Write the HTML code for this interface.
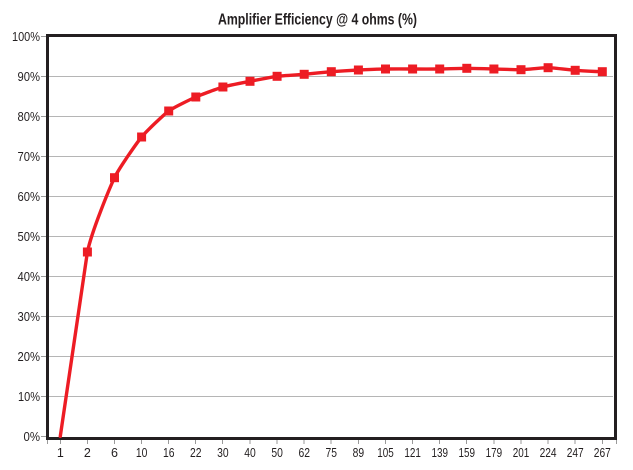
<!DOCTYPE html>
<html>
<head>
<meta charset="utf-8">
<style>
html,body{margin:0;padding:0;background:#fff;}
svg{display:block;}
text{font-family:"Liberation Sans",sans-serif;fill:#231f20;}
</style>
</head>
<body>
<svg width="633" height="470" viewBox="0 0 633 470" xmlns="http://www.w3.org/2000/svg">
<rect width="633" height="470" fill="#fff"/>
<!-- title -->
<text x="218" y="24.5" font-size="15.5" font-weight="bold" textLength="199" lengthAdjust="spacingAndGlyphs">Amplifier Efficiency @ 4 ohms (%)</text>

<!-- gridlines -->
<g stroke="#b5b5b5" stroke-width="1">
<line x1="49" y1="76.5" x2="613" y2="76.5"/>
<line x1="49" y1="116.5" x2="613" y2="116.5"/>
<line x1="49" y1="156.5" x2="613" y2="156.5"/>
<line x1="49" y1="196.5" x2="613" y2="196.5"/>
<line x1="49" y1="236.5" x2="613" y2="236.5"/>
<line x1="49" y1="276.5" x2="613" y2="276.5"/>
<line x1="49" y1="316.5" x2="613" y2="316.5"/>
<line x1="49" y1="356.5" x2="613" y2="356.5"/>
<line x1="49" y1="396.5" x2="613" y2="396.5"/>
</g>
<!-- y ticks -->
<g stroke="#9a9a9a" stroke-width="1">
<line x1="41" y1="36.5" x2="46" y2="36.5"/>
<line x1="41" y1="76.5" x2="46" y2="76.5"/>
<line x1="41" y1="116.5" x2="46" y2="116.5"/>
<line x1="41" y1="156.5" x2="46" y2="156.5"/>
<line x1="41" y1="196.5" x2="46" y2="196.5"/>
<line x1="41" y1="236.5" x2="46" y2="236.5"/>
<line x1="41" y1="276.5" x2="46" y2="276.5"/>
<line x1="41" y1="316.5" x2="46" y2="316.5"/>
<line x1="41" y1="356.5" x2="46" y2="356.5"/>
<line x1="41" y1="396.5" x2="46" y2="396.5"/>
<line x1="41" y1="436.5" x2="46" y2="436.5"/>
</g>
<!-- x ticks -->
<g stroke="#9a9a9a" stroke-width="1">
<line x1="47.5" y1="440" x2="47.5" y2="444"/>
<line x1="60.5" y1="440" x2="60.5" y2="444"/>
<line x1="87.5" y1="440" x2="87.5" y2="444"/>
<line x1="114.5" y1="440" x2="114.5" y2="444"/>
<line x1="141.5" y1="440" x2="141.5" y2="444"/>
<line x1="168.5" y1="440" x2="168.5" y2="444"/>
<line x1="195.5" y1="440" x2="195.5" y2="444"/>
<line x1="222.5" y1="440" x2="222.5" y2="444"/>
<line x1="250" y1="440" x2="250" y2="444"/>
<line x1="277" y1="440" x2="277" y2="444"/>
<line x1="304" y1="440" x2="304" y2="444"/>
<line x1="331" y1="440" x2="331" y2="444"/>
<line x1="358.5" y1="440" x2="358.5" y2="444"/>
<line x1="385.5" y1="440" x2="385.5" y2="444"/>
<line x1="412.5" y1="440" x2="412.5" y2="444"/>
<line x1="439.5" y1="440" x2="439.5" y2="444"/>
<line x1="466.5" y1="440" x2="466.5" y2="444"/>
<line x1="494" y1="440" x2="494" y2="444"/>
<line x1="521" y1="440" x2="521" y2="444"/>
<line x1="548" y1="440" x2="548" y2="444"/>
<line x1="575" y1="440" x2="575" y2="444"/>
<line x1="602.5" y1="440" x2="602.5" y2="444"/>
<line x1="616.5" y1="440" x2="616.5" y2="444"/>
</g>

<!-- frame -->
<rect x="47.5" y="35.5" width="568" height="403" fill="none" stroke="#231f20" stroke-width="3"/>

<!-- y labels -->
<g font-size="12.5" text-anchor="end">
<text x="40" y="41" textLength="28" lengthAdjust="spacingAndGlyphs">100%</text>
<text x="40" y="81" textLength="22.5" lengthAdjust="spacingAndGlyphs">90%</text>
<text x="40" y="121" textLength="22.5" lengthAdjust="spacingAndGlyphs">80%</text>
<text x="40" y="161" textLength="22.5" lengthAdjust="spacingAndGlyphs">70%</text>
<text x="40" y="201" textLength="22.5" lengthAdjust="spacingAndGlyphs">60%</text>
<text x="40" y="241" textLength="22.5" lengthAdjust="spacingAndGlyphs">50%</text>
<text x="40" y="281" textLength="22.5" lengthAdjust="spacingAndGlyphs">40%</text>
<text x="40" y="321" textLength="22.5" lengthAdjust="spacingAndGlyphs">30%</text>
<text x="40" y="361" textLength="22.5" lengthAdjust="spacingAndGlyphs">20%</text>
<text x="40" y="401" textLength="22" lengthAdjust="spacingAndGlyphs">10%</text>
<text x="40" y="441" textLength="16.5" lengthAdjust="spacingAndGlyphs">0%</text>
</g>

<!-- x labels -->
<g font-size="12.5" text-anchor="middle">
<text x="60.3" y="457">1</text>
<text x="87.4" y="457">2</text>
<text x="114.5" y="457">6</text>
<text x="141.6" y="457" textLength="11.5" lengthAdjust="spacingAndGlyphs">10</text>
<text x="168.7" y="457" textLength="11.5" lengthAdjust="spacingAndGlyphs">16</text>
<text x="195.8" y="457" textLength="11.5" lengthAdjust="spacingAndGlyphs">22</text>
<text x="222.9" y="457" textLength="11.5" lengthAdjust="spacingAndGlyphs">30</text>
<text x="250" y="457" textLength="11.5" lengthAdjust="spacingAndGlyphs">40</text>
<text x="277.1" y="457" textLength="11.5" lengthAdjust="spacingAndGlyphs">50</text>
<text x="304.2" y="457" textLength="11.5" lengthAdjust="spacingAndGlyphs">62</text>
<text x="331.3" y="457" textLength="11.5" lengthAdjust="spacingAndGlyphs">75</text>
<text x="358.4" y="457" textLength="11.5" lengthAdjust="spacingAndGlyphs">89</text>
<text x="385.5" y="457" textLength="16.5" lengthAdjust="spacingAndGlyphs">105</text>
<text x="412.6" y="457" textLength="16.5" lengthAdjust="spacingAndGlyphs">121</text>
<text x="439.7" y="457" textLength="16.5" lengthAdjust="spacingAndGlyphs">139</text>
<text x="466.8" y="457" textLength="16.5" lengthAdjust="spacingAndGlyphs">159</text>
<text x="493.9" y="457" textLength="16.5" lengthAdjust="spacingAndGlyphs">179</text>
<text x="521" y="457" textLength="16.5" lengthAdjust="spacingAndGlyphs">201</text>
<text x="548.1" y="457" textLength="17" lengthAdjust="spacingAndGlyphs">224</text>
<text x="575.2" y="457" textLength="17" lengthAdjust="spacingAndGlyphs">247</text>
<text x="602.3" y="457" textLength="17" lengthAdjust="spacingAndGlyphs">267</text>
</g>

<!-- series line -->
<path fill="none" stroke="#ed1c24" stroke-width="3.4" stroke-linejoin="round" stroke-linecap="round"
d="M60.3 436.3
L87.4 252
C91.9 230.45 110 187.28 114.5 177.7
C119 168.12 137.1 142.56 141.6 137
C146.1 131.44 164.2 114.33 168.7 111
C173.2 107.67 191.3 99 195.8 97
C200.3 95 218.4 88.31 222.9 87
C227.4 85.69 245.5 82.19 250 81.3
C254.5 80.41 272.6 76.88 277.1 76.3
C281.6 75.72 299.7 74.68 304.2 74.3
C308.7 73.92 326.8 72.06 331.3 71.7
C335.8 71.34 353.9 70.22 358.4 70
C362.9 69.78 381 69.08 385.5 69
C390 68.92 408.1 69 412.6 69
C417.1 69 435.2 69.06 439.7 69
C444.2 68.94 462.3 68.3 466.8 68.3
C471.3 68.3 489.4 68.88 493.9 69
C498.4 69.12 516.5 69.81 521 69.7
C525.5 69.59 543.6 67.65 548.1 67.7
C552.6 67.75 570.7 69.97 575.2 70.3
C579.7 70.63 597.8 71.58 602.3 71.7"/>

<!-- markers -->
<g fill="#ed1c24">
<rect x="82.9" y="247.5" width="9" height="9"/>
<rect x="110" y="173.2" width="9" height="9"/>
<rect x="137.1" y="132.5" width="9" height="9"/>
<rect x="164.2" y="106.5" width="9" height="9"/>
<rect x="191.3" y="92.5" width="9" height="9"/>
<rect x="218.4" y="82.5" width="9" height="9"/>
<rect x="245.5" y="76.8" width="9" height="9"/>
<rect x="272.6" y="71.8" width="9" height="9"/>
<rect x="299.7" y="69.8" width="9" height="9"/>
<rect x="326.8" y="67.2" width="9" height="9"/>
<rect x="353.9" y="65.5" width="9" height="9"/>
<rect x="381" y="64.5" width="9" height="9"/>
<rect x="408.1" y="64.5" width="9" height="9"/>
<rect x="435.2" y="64.5" width="9" height="9"/>
<rect x="462.3" y="63.8" width="9" height="9"/>
<rect x="489.4" y="64.5" width="9" height="9"/>
<rect x="516.5" y="65.2" width="9" height="9"/>
<rect x="543.6" y="63.2" width="9" height="9"/>
<rect x="570.7" y="65.8" width="9" height="9"/>
<rect x="597.8" y="67.2" width="9" height="9"/>
</g>
</svg>
</body>
</html>
